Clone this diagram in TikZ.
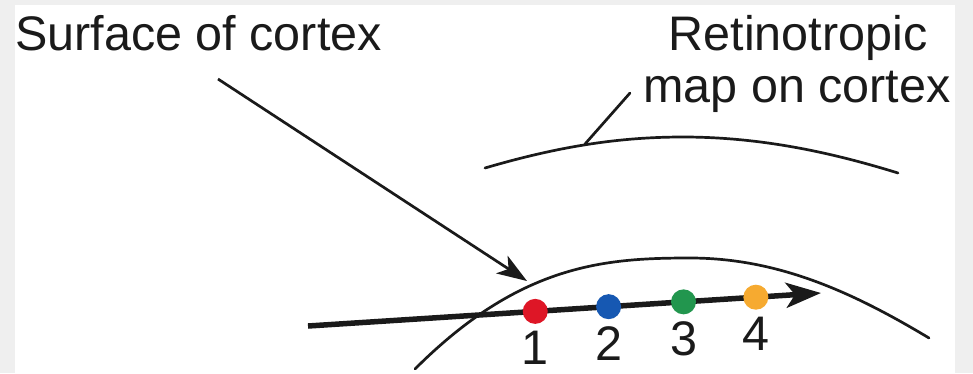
\documentclass[tikz,border=0pt]{standalone}
\usepackage{fontspec}
\setmainfont{Liberation Sans}
\usetikzlibrary{arrows.meta}
\definecolor{framegrey}{RGB}{239,239,239}
\definecolor{inkblack}{RGB}{26,26,26}
\definecolor{dotred}{RGB}{222,22,38}
\definecolor{dotblue}{RGB}{22,88,178}
\definecolor{dotgreen}{RGB}{34,150,78}
\definecolor{dotorange}{RGB}{246,170,48}

\begin{document}
\begin{tikzpicture}[x=1pt,y=-1pt,
  every node/.style={font=\fontsize{48.5}{52}\selectfont,text=inkblack,inner sep=0pt},
  curve/.style={draw=inkblack,line width=2.7pt,line cap=round},
  pointer/.style={draw=inkblack,line width=2.7pt,-{Stealth[length=30pt,width=21pt,inset=8pt]}},
  track/.style={draw=inkblack,line width=5.5pt,-{Stealth[length=35pt,width=25pt,inset=9pt]}},
  site/.style={circle,minimum size=25pt,inner sep=0pt,
               label={[label distance=7pt]below:#1}}]

% page: grey frame, white field
\useasboundingbox (0,0) rectangle (973,373);
\fill[framegrey] (0,0) rectangle (973,373);
\fill[white] (15,5) rectangle (955,373);

\node[anchor=base west] (surf) at (15,50) {Surface of cortex};
\node[anchor=base] (retino) at (798,50) {Retinotropic};
\node[anchor=base] (mapon) at (797,102) {map on cortex};

% the map (upper arc) and the cortex surface (lower arc)
\draw[curve] (485,168) .. controls (560,146) and (620,137) .. (683,137)
  .. controls (760,137) and (830,152) .. (898,173);
\draw[curve] (415,369) .. controls (520,264) and (605,258) .. (690,258)
  .. controls (779,258) and (854,293) .. (929,338);

\coordinate (mapfoot) at (585,144);
\coordinate (maplead) at (630,93);
\coordinate (surffoot) at (218,79);
\coordinate (surftip) at (527,281);
\coordinate (tstart) at (308,326);
\coordinate (ttip) at (821,293);

\draw[curve] (mapfoot) -- (maplead);
\draw[pointer] (surffoot) -- (surftip);
\draw[track] (tstart) -- (ttip);

\foreach \n/\p/\c in {1/0.443/dotred,2/0.586/dotblue,3/0.732/dotgreen,4/0.873/dotorange}
  \path (tstart) -- (ttip) node[site=\n,fill=\c,pos=\p] (s\n) {};
\end{tikzpicture}
\end{document}
